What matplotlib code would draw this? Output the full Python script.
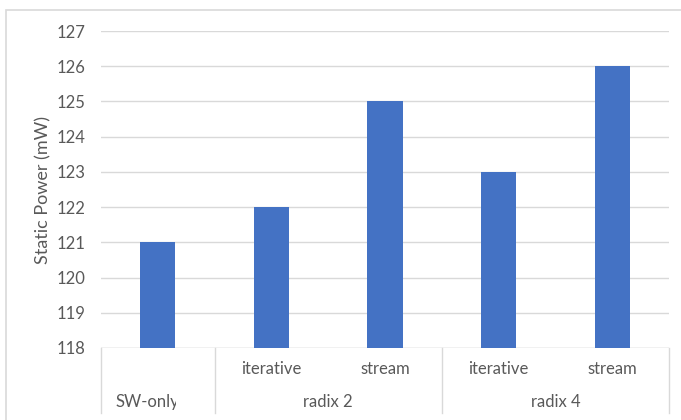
import matplotlib
matplotlib.use("Agg")
import matplotlib.pyplot as plt
import matplotlib.transforms as mtransforms
from matplotlib.patches import Rectangle

plt.rcParams['font.family'] = ['Lato', 'DejaVu Sans']

# Data
inner_labels = ["", "iterative", "stream", "iterative", "stream"]
group_labels = ["SW-only", "radix 2", "radix 4"]
group_spans = [(0, 0), (1, 2), (3, 4)]
static_power = [121, 122, 125, 123, 126]

W, H = 681, 420
fig = plt.figure(figsize=(W / 100, H / 100), dpi=100)
TXT = "#595959"
GRID = "#D9D9D9"

# Outer chart frame (extends past the right and bottom edges)
fig.patches.append(Rectangle((6 / W, -0.05), (700 - 6) / W, (H - 10) / H + 0.05,
                             transform=fig.transFigure, fill=False,
                             edgecolor=GRID, linewidth=1.2))

left, right, top, bottom = 101, 669, 31, 348
ax = fig.add_axes([left / W, (H - bottom) / H, (right - left) / W, (bottom - top) / H])

x = list(range(len(static_power)))
ax.bar(x, static_power, width=0.31, color="#4472C4", zorder=3)

ax.set_ylim(118, 127)
ax.set_xlim(-0.5, len(static_power) - 0.5)
ax.set_yticks(range(118, 128))
ax.yaxis.grid(True, color=GRID, linewidth=1)
ax.set_axisbelow(True)
for s in ["top", "right", "left", "bottom"]:
    ax.spines[s].set_visible(False)
ax.axhline(118, color=GRID, linewidth=1, zorder=2)
ax.tick_params(axis="y", length=0, pad=11.5, labelsize=12, labelcolor=TXT)
ax.set_xticks([])

ax.set_ylabel("Static Power (mW)", fontsize=13, color=TXT)
ax.yaxis.set_label_coords((51 - left) / (right - left), 0.5)

# Multi-level category axis
trans = mtransforms.blended_transform_factory(ax.transData, ax.transAxes)
px = 1.0 / (bottom - top)
sep_bottom = -(413 - bottom) * px
for xs in [-0.5, 0.5, 2.5, 4.5]:
    ax.plot([xs, xs], [0, sep_bottom], transform=trans, color=GRID,
            linewidth=1, clip_on=False)

inner_y = -(369 - bottom) * px
outer_y = -(402 - bottom) * px
for xi, lab in zip(x, inner_labels):
    if lab:
        ax.text(xi, inner_y, lab, transform=trans, ha="center", va="center",
                fontsize=12, color=TXT)

for lab, (a, b) in zip(group_labels, group_spans):
    if a == b:
        fig.text(115 / W, (H - 402) / H, lab, ha="left", va="center",
                 fontsize=12, color=TXT)
        # label truncated at the edge of its text box
        fig.patches.append(Rectangle((176 / W, (H - 414) / H), 30 / W, 24 / H,
                                     transform=fig.transFigure, facecolor="white",
                                     edgecolor="none", zorder=5))
    else:
        ax.text((a + b) / 2, outer_y, lab, transform=trans, ha="center", va="center",
                fontsize=12, color=TXT)

fig.savefig("out.png", dpi=100)
